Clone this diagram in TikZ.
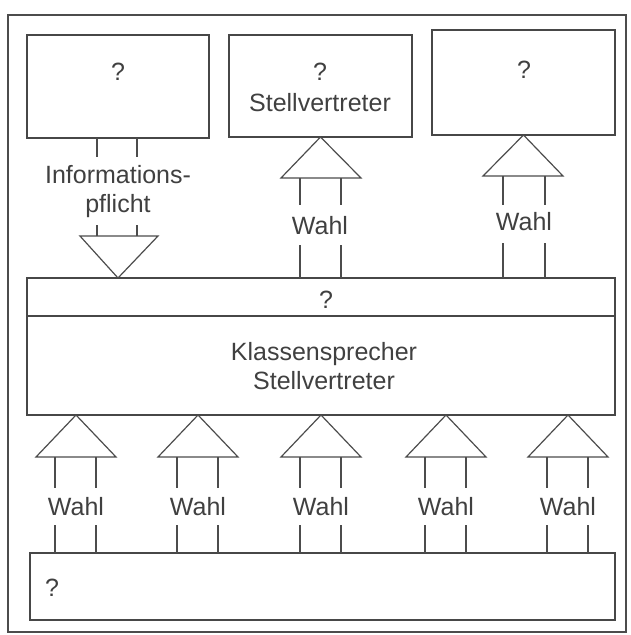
\documentclass[tikz,border=0pt]{standalone}
\usepackage{fontspec}
\setmainfont{Liberation Sans}
\begin{document}
\begin{tikzpicture}[x=1pt,y=-1pt,
  ln/.style={draw=black!70, line width=1.2pt},
  box/.style={draw=black!72, line width=1.3pt, inner sep=0pt},
  txt/.style={text=black!75, font=\fontsize{25}{29}\selectfont, inner sep=0pt, align=center},
]
\useasboundingbox (0,0) rectangle (630,635);
% outer frame
\draw[ln] (8,15) rectangle (626,632);
% top boxes
\node[box, minimum width=182pt, minimum height=103pt] (b1) at (118,86.5) {};
\node[box, minimum width=183pt, minimum height=102pt] (b2) at (320.5,86) {};
\node[box, minimum width=183pt, minimum height=105pt] (b3) at (523.5,82.5) {};
\node[txt] (q1) at (118,72) {?};
\node[txt] (q2) at (320,72) {?};
\node[txt] (s2) at (320,103) {Stellvertreter};
\node[txt] (q3) at (524,70) {?};
% middle box
\node[box, minimum width=588pt, minimum height=38pt] (mtop) at (321,297) {};
\node[box, minimum width=588pt, minimum height=99pt] (mbot) at (321,365.5) {};
\node[txt] (qm) at (326,300) {?};
\node[txt] (ks) at (324,366) {Klassensprecher\\Stellvertreter};
% bottom box
\node[box, minimum width=585pt, minimum height=67pt] (bot) at (322.5,586.5) {};
\node[txt] (qb) at (52,588) {?};
% Informationspflicht
\node[txt] (info) at (118,192) {Informations-\\pflicht};
\draw[ln] (97,138) -- (97,157) (137,138) -- (137,157);
\draw[ln] (97,225) -- (97,236) (137,225) -- (137,236);
\draw[ln] (80,236) -- (158,236) -- (118,278) -- cycle;
% Wahl to box 2
\node[txt] (wt2) at (320,226) {Wahl};
\draw[ln] (320.5,137) -- (361,178) -- (281,178) -- cycle;
\draw[ln] (300,178) -- (300,205) (341,178) -- (341,205);
\draw[ln] (300,245) -- (300,278) (341,245) -- (341,278);
% Wahl to box 3
\node[txt] (wt3) at (524,222) {Wahl};
\draw[ln] (523.5,135) -- (563,176) -- (483,176) -- cycle;
\draw[ln] (503,176) -- (503,205) (545,176) -- (545,205);
\draw[ln] (503,243) -- (503,278) (545,243) -- (545,278);
% bottom Wahl arrows
\foreach \x [count=\i] in {76,198,321,446,568}{
  \node[txt] (w\i) at (\x,507) {Wahl};
  \draw[ln] (\x,415) -- (\x+40,457) -- (\x-40,457) -- cycle;
  \draw[ln] (\x-21,457) -- (\x-21,488) (\x+20,457) -- (\x+20,488);
  \draw[ln] (\x-21,525) -- (\x-21,553) (\x+20,525) -- (\x+20,553);
}
\end{tikzpicture}
\end{document}
